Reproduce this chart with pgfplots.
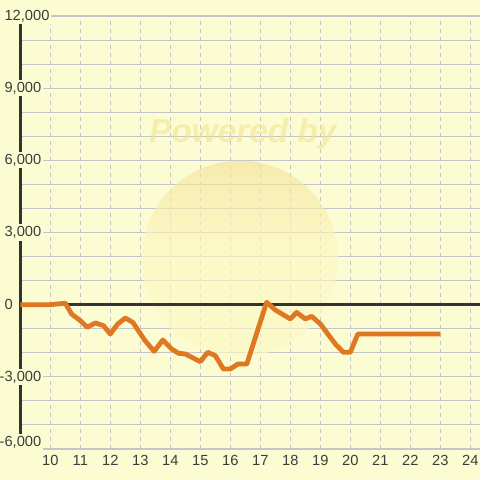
\documentclass[border=0pt]{standalone}
\usepackage{pgfplots}
\pgfplotsset{compat=1.18}
\usepackage{fontspec}
\setmainfont{Liberation Sans}
\definecolor{bg}{RGB}{252,252,210}
\definecolor{gridc}{RGB}{196,196,202}
\definecolor{axc}{RGB}{51,51,51}
\definecolor{lc}{RGB}{222,120,34}
\definecolor{txt}{RGB}{60,60,60}
\definecolor{wm}{RGB}{240,226,140}
\definecolor{wmA}{RGB}{253,248,196}
\definecolor{wmB}{RGB}{244,226,155}
\pgfplotstableread{
x y
9 0
10 0
10.5 60
10.71 -390
11.0 -665
11.23 -940
11.5 -760
11.77 -870
12.0 -1220
12.25 -800
12.5 -555
12.75 -735
13.16 -1500
13.46 -1940
13.75 -1470
14.05 -1845
14.27 -2020
14.5 -2050
15.0 -2370
15.25 -1980
15.5 -2120
15.77 -2675
16.0 -2675
16.25 -2470
16.55 -2470
17.21 100
17.5 -220
18.0 -595
18.21 -320
18.5 -595
18.71 -485
19.0 -800
19.5 -1635
19.77 -1980
20.0 -1980
20.25 -1220
23.0 -1220
}\series
\begin{document}
\begin{tikzpicture}
\fill[bg] (0,0) rectangle (360pt,360pt);
\useasboundingbox (0,0) rectangle (360pt,360pt);
\begin{axis}[
  at={(15.225pt,23.25pt)}, anchor=south west,
  scale only axis, width=344.8pt, height=324.75pt,
  xmin=9, xmax=24.323, ymin=-6000, ymax=12000,
  clip=false,
  axis lines*=left,
  x axis line style={draw=none},
  y axis line style={axc, line width=2.4pt, -},
  scaled y ticks=false, scaled x ticks=false,
  xtick={10,...,24},
  ytick={-3000,0,3000,6000,9000,12000},
  yticklabels={{\llap{-}3{,}000},{0},{3{,}000},{6{,}000},{9{,}000},{12{,}000}},
  extra y ticks={-6000},
  extra y tick labels={{\llap{-}6{,}000}},
  extra y tick style={grid=major, yticklabel style={yshift=5pt}},
  minor ytick={-5000,-4000,-2000,-1000,1000,2000,4000,5000,7000,8000,10000,11000},
  tick style={draw=none},
  xmajorgrids, ymajorgrids, yminorgrids,
  grid style={gridc, line width=0.8pt},
  x grid style={gridc, dashed, line width=0.6pt},
  yticklabel style={anchor=west, xshift=-13.5pt, fill=bg, inner sep=1.5pt, text=txt, font=\fontsize{11}{12}\selectfont},
  xticklabel style={text=txt, font=\fontsize{11}{12}\selectfont, yshift=-1pt},
  /pgf/number format/assume math mode=true,
]
\shade[opacity=0.65, shading angle=225, top color=wmB, bottom color=wmA, middle color=wmA] (axis cs:16.32,1913) circle [radius=73.5pt];
\node[font=\bfseries\itshape\fontsize{25}{25}\selectfont, text=wm, opacity=0.55] at (axis cs:16.42,7110) {Powered by};
\addplot[axc, line width=2.25pt, forget plot] coordinates {(9,0) (24.323,0)};
\addplot[lc, line width=3.6pt, line join=round] table[x=x,y=y] {\series};
\end{axis}
\end{tikzpicture}
\end{document}
